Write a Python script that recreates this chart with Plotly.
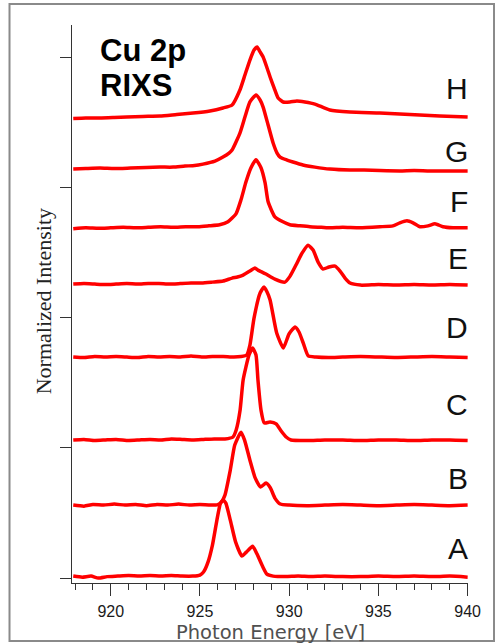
import plotly.graph_objects as go

# Cu 2p RIXS spectra, stacked with a vertical offset per spectrum
labels = ["A", "B", "C", "D", "E", "F", "G", "H"]
offsets = [0.015, 0.560, 1.060, 1.697, 2.257, 2.689, 3.140, 3.532]

energy_A = [917.9, 918.4, 918.9, 919.3, 919.8, 920.4, 921.0, 921.6, 922.2, 922.8, 923.4, 924.0,
            924.6, 925.0, 925.2, 925.45, 925.7, 925.95, 926.15, 926.3, 926.45, 926.7, 927.0,
            927.35, 927.6, 927.95, 928.2, 928.5, 928.75, 929.1, 929.8, 930.5, 931.2, 932, 933,
            934, 935, 936, 937, 938, 939, 940]
inten_A = [0, -0.008, 0, -0.015, -0.004, 0, 0.004, 0, 0.004, 0, 0.004, 0,
           0, 0.008, 0.031, 0.107, 0.238, 0.430, 0.560, 0.583, 0.560, 0.430, 0.261,
           0.154, 0.184, 0.230, 0.169, 0.077, 0.015, 0, -0.004, 0, -0.004, 0, -0.004,
           -0.004, 0, -0.004, 0, -0.004, 0, -0.008]

energy_B = [917.9, 918.5, 919.0, 919.6, 920.2, 920.8, 921.4, 922.0, 922.6, 923.2, 923.8, 924.4,
            925.0, 925.6, 926.0, 926.2, 926.4, 926.7, 926.95, 927.3, 927.5, 927.8, 928.1,
            928.4, 928.7, 928.95, 929.2, 929.5, 930, 931, 932, 933, 934, 935, 936, 937, 938,
            939, 940]
inten_B = [0, -0.008, 0.004, 0, 0.008, 0, 0.004, -0.004, 0.004, 0, 0.008, 0,
           0.004, 0, 0.004, 0.023, 0.077, 0.269, 0.461, 0.560, 0.499, 0.345, 0.207,
           0.138, 0.169, 0.131, 0.054, 0.008, 0, -0.004, 0, 0.004, 0, -0.004, 0, 0.004, 0,
           -0.004, 0]

energy_C = [917.9, 918.5, 919.1, 919.7, 920.3, 921.0, 921.6, 922.2, 922.8, 923.4, 924.0, 924.6,
            925.2, 925.8, 926.4, 926.85, 927.03, 927.25, 927.42, 927.75, 927.95, 928.14,
            928.25, 928.42, 928.6, 928.93, 929.27, 929.55, 929.83, 930.1, 931, 932, 933, 934,
            935, 936, 937, 938, 939, 940]
inten_C = [0, 0.004, -0.004, 0, 0.004, -0.004, 0, 0.004, 0, 0.008, 0.004, 0,
           0.004, 0.008, 0.008, 0.023, 0.077, 0.230, 0.461, 0.653, 0.706, 0.653,
           0.461, 0.230, 0.131, 0.138, 0.123, 0.069, 0.023, 0, -0.004, 0, 0, -0.004,
           0, 0, -0.004, 0, 0, -0.004]

energy_D = [917.9, 918.5, 919.1, 919.7, 920.3, 920.9, 921.5, 922.1, 922.7, 923.3, 923.9, 924.5,
            925.1, 925.7, 926.3, 926.9, 927.3, 927.62, 927.8, 928.03, 928.37, 928.59, 928.76,
            928.93, 929.3, 929.67, 929.99, 930.33, 930.55, 930.79, 931.07, 931.5, 932.2, 933,
            934, 935, 936, 937, 938, 939, 940]
inten_D = [0, -0.004, 0.004, 0, 0.004, 0, -0.004, 0.004, 0, 0.004, 0, 0.008,
           0, 0.004, 0.004, 0, 0.004, 0.015, 0.092, 0.299, 0.491, 0.537, 0.499,
           0.438, 0.184, 0.069, 0.177, 0.230, 0.192, 0.107, 0.008, 0, -0.004, 0,
           0.004, 0, -0.004, 0, 0.004, 0, -0.004]

energy_E = [917.9, 918.5, 919.1, 919.7, 920.3, 920.9, 921.5, 922.1, 922.7, 923.3, 923.9, 924.5,
            925.1, 925.7, 926.3, 926.8, 927.1, 927.42, 927.8, 928.08, 928.25, 928.48, 928.7,
            929.2, 929.76, 930.05, 930.38, 930.72, 931.06, 931.34, 931.62, 931.9, 932.23,
            932.57, 932.85, 933.13, 933.41, 934, 935, 936, 937, 938, 939, 940]
inten_E = [0, 0.004, 0, -0.004, 0, 0.004, 0, 0.004, 0.004, 0, 0.004, 0.008,
           0.008, 0.015, 0.023, 0.046, 0.054, 0.069, 0.100, 0.123, 0.107, 0.092, 0.077,
           0.038, 0.015, 0.061, 0.146, 0.238, 0.299, 0.261, 0.169, 0.115, 0.131,
           0.138, 0.100, 0.046, 0.008, -0.008, -0.004, -0.008, -0.004, -0.008, -0.004, -0.008]

energy_F = [917.9, 918.6, 919.3, 920.0, 920.7, 921.4, 922.1, 922.8, 923.5, 924.2, 924.9, 925.5,
            926.1, 926.57, 927.02, 927.3, 927.58, 927.86, 928.14, 928.42, 928.65, 928.82,
            929.2, 929.65, 930.04, 930.6, 931.16, 931.8, 932.3, 933, 933.96, 935.08, 935.81,
            936.2, 936.6, 936.94, 937.33, 937.78, 938.17, 938.62, 939.18, 940]
inten_F = [-0.008, 0, -0.004, 0, 0.004, 0, 0.004, 0.008, 0.004, 0.008, 0.008, 0.015,
           0.023, 0.046, 0.107, 0.215, 0.353, 0.461, 0.522, 0.461, 0.345, 0.200,
           0.084, 0.046, 0.023, 0.015, 0.008, 0.004, 0, 0.004, 0, 0.008, 0.015,
           0.038, 0.054, 0.038, 0.008, 0.015, 0.031, 0.008, 0, 0]

energy_G = [917.9, 918.6, 919.4, 920.2, 921.1, 922.0, 922.76, 923.5, 924.16, 924.7, 925.17,
            925.84, 926.29, 926.63, 926.8, 927.24, 927.52, 927.8, 928.14, 928.37, 928.54,
            928.82, 929.1, 929.32, 929.49, 929.88, 930.21, 930.77, 931.44, 932.28, 933.4,
            934.2, 935.08, 936.2, 937.0, 937.88, 939.0, 940]
inten_G = [0, 0.004, 0.008, 0.004, 0.008, 0.012, 0.015, 0.015, 0.023, 0.027, 0.038,
           0.061, 0.092, 0.123, 0.146, 0.276, 0.399, 0.515, 0.568, 0.530, 0.476,
           0.338, 0.200, 0.123, 0.092, 0.069, 0.054, 0.031, 0.015, 0, -0.008,
           -0.008, -0.012, -0.015, -0.012, -0.015, -0.015, -0.015]

energy_H = [917.9, 918.6, 919.4, 920.2, 920.9, 921.8, 922.76, 923.7, 924.61, 925.56, 926.29,
            926.8, 927.24, 927.52, 927.8, 928.03, 928.2, 928.37, 928.54, 928.76, 928.93,
            929.16, 929.38, 929.66, 930.04, 930.43, 930.88, 931.44, 932.28, 933.4, 935.08,
            936.76, 938.44, 940]
inten_H = [-0.004, 0, 0, 0.004, 0.008, 0.012, 0.015, 0.027, 0.038, 0.054, 0.077,
           0.100, 0.215, 0.330, 0.445, 0.522, 0.545, 0.507, 0.468, 0.384, 0.315,
           0.230, 0.154, 0.123, 0.123, 0.131, 0.123, 0.107, 0.061, 0.046, 0.038,
           0.027, 0.015, 0.008]

energies = [energy_A, energy_B, energy_C, energy_D, energy_E, energy_F, energy_G, energy_H]
intensities = [inten_A, inten_B, inten_C, inten_D, inten_E, inten_F, inten_G, inten_H]

x_ticks = [920, 925, 930, 935, 940]
y_ticks = [0, 1, 2, 3, 4]

# vertical position of each spectrum's letter
label_y = [0.230, 0.768, 1.329, 1.927, 2.457, 2.894, 3.278, 3.762]

fig = go.Figure()
for name, off, e, s in zip(labels, offsets, energies, intensities):
    fig.add_trace(go.Scatter(
        x=e, y=[off + v for v in s], mode="lines", name=name,
        line=dict(color="#ff0000", width=3.5, shape="spline", smoothing=0.5),
        showlegend=False,
    ))

annotations = []
for name, ly in zip(labels, label_y):
    annotations.append(dict(
        text=name, x=1.005, xref="paper", y=ly, yref="y",
        xanchor="right", yanchor="middle", showarrow=False,
        font=dict(family="Liberation Sans, Arial", size=30, color="#111111"),
    ))

annotations += [
    dict(text="<b>Cu 2p</b>", x=0.066, xref="paper", y=50, yref="paper", showarrow=False,
         xanchor="left", yanchor="middle",
         font=dict(family="Liberation Sans, Arial", size=31, color="#000000")),
    dict(text="<b>RIXS</b>", x=0.066, xref="paper", y=85, yref="paper", showarrow=False,
         xanchor="left", yanchor="middle",
         font=dict(family="Liberation Sans, Arial", size=31, color="#000000")),
    dict(text="Photon Energy [eV]", x=0.50, xref="paper", y=-0.0885, yref="paper",
         showarrow=False, xanchor="center", yanchor="middle",
         font=dict(family="DejaVu Sans", size=19.5, color="#505050")),
    dict(text="Photon Energy (eV)", x=0.50, xref="paper", y=1.068, yref="paper",
         showarrow=False, xanchor="center", yanchor="middle",
         font=dict(family="DejaVu Sans", size=19.5, color="#505050")),
    dict(text="Normalized Intensity", x=-0.073, xref="paper", y=0.505, yref="paper",
         showarrow=False, xanchor="center", yanchor="middle", textangle=-90,
         font=dict(family="Liberation Serif, Times New Roman", size=22, color="#222222")),
]

# convert the two title-block positions given in pixels from the top into paper units
plot_top, plot_h = 25, 558
for a in annotations:
    if a["text"] in ("<b>Cu 2p</b>", "<b>RIXS</b>"):
        a["y"] = 1 - (a["y"] - plot_top) / plot_h

fig.update_layout(
    width=495, height=644, autosize=False,
    margin=dict(l=72, r=27, t=25, b=61),
    paper_bgcolor="white", plot_bgcolor="white",
    annotations=annotations,
    shapes=[dict(type="rect", xref="paper", yref="paper",
                 x0=-0.1578, x1=1.0657, y0=-0.1039, y1=1.0376,
                 line=dict(color="#8a8a8a", width=2), layer="below")],
    xaxis=dict(range=[917.83, 940.02], tickvals=x_ticks, ticks="outside", ticklen=12,
               tickcolor="#333333", showline=True, linecolor="#333333", linewidth=1,
               showgrid=False, zeroline=False, mirror=False, ticklabelstandoff=2,
               tickfont=dict(family="Liberation Sans, Arial", size=16, color="#1a1a1a"),
               minor=dict(dtick=1, ticks="outside", ticklen=6, tickcolor="#333333")),
    yaxis=dict(range=[-0.038, 4.246], tickvals=y_ticks, ticks="outside", ticklen=11,
               tickcolor="#333333", showline=True, linecolor="#333333", linewidth=1,
               showgrid=False, zeroline=False, showticklabels=False),
)

fig.write_html("out.html")
